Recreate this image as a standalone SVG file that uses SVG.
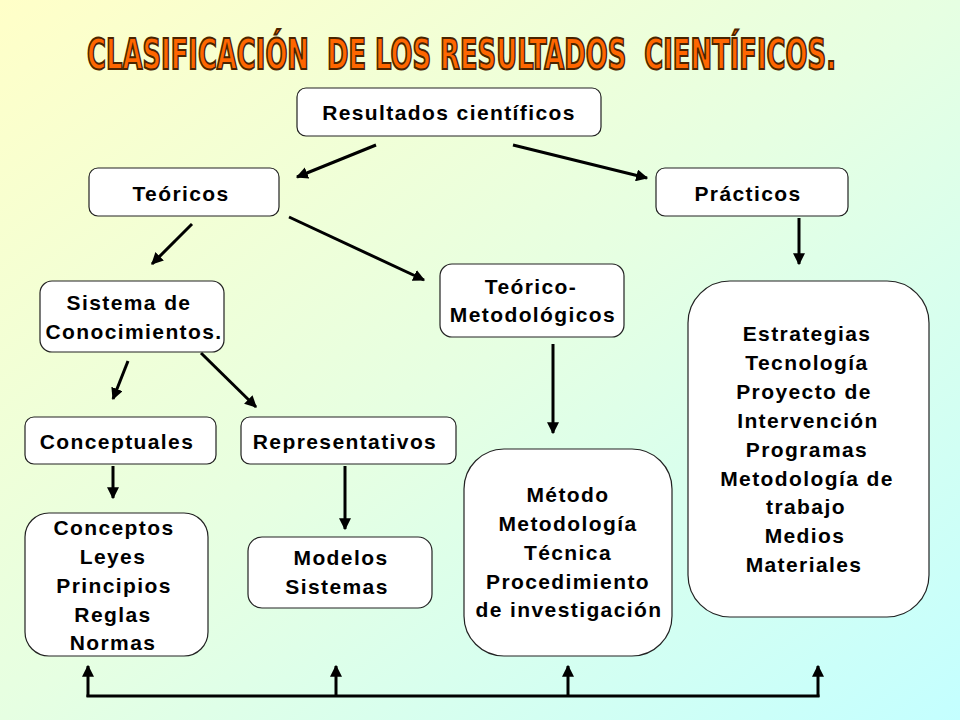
<svg xmlns="http://www.w3.org/2000/svg" width="960" height="720" viewBox="0 0 960 720">
  <defs>
    <linearGradient id="bg" x1="0" y1="0" x2="1" y2="1">
      <stop offset="0" stop-color="#FFFFC8"/>
      <stop offset="0.5" stop-color="#E6FFE2"/>
      <stop offset="1" stop-color="#C4FFFF"/>
    </linearGradient>
    <marker id="arr" markerUnits="userSpaceOnUse" markerWidth="12" markerHeight="12" refX="9" refY="5" orient="auto" viewBox="0 0 10 10">
      <path d="M0,0 L10,5 L0,10 z" fill="#000"/>
    </marker>
    <style>
      .box { fill: #ffffff; stroke: #222222; stroke-width: 1.2; }
      .t { font-family: "Liberation Sans", Arial, sans-serif; font-weight: bold; font-size: 21px; letter-spacing: 1.4px; fill: #000; text-anchor: middle; }
      .c { stroke: #000; stroke-width: 3; fill: none; }
      .ca { stroke: #000; stroke-width: 3; fill: none; marker-end: url(#arr); }
      .title { font-family: "DejaVu Sans Condensed", "Liberation Sans", sans-serif; font-weight: bold; font-size: 42px; fill: #FF6600; stroke: #4a2400; stroke-width: 2; }
    </style>
  </defs>
  <rect x="0" y="0" width="960" height="720" fill="url(#bg)"/>

  <g id="title" transform="translate(87,69) scale(0.684,1)">
    <text class="title" x="0" y="0" xml:space="preserve">CLASIFICACIÓN  DE LOS RESULTADOS  CIENTÍFICOS.</text>
  </g>

  <g id="connectors">
    <line class="ca" x1="376" y1="145" x2="297" y2="177"/>
    <line class="ca" x1="513" y1="145" x2="647" y2="178"/>
    <line class="ca" x1="192" y1="224" x2="152" y2="264"/>
    <line class="ca" x1="289" y1="217" x2="424" y2="280"/>
    <line class="ca" x1="799" y1="218" x2="799" y2="264"/>
    <line class="ca" x1="128" y1="361" x2="113" y2="399"/>
    <line class="ca" x1="201" y1="353" x2="256" y2="407"/>
    <line class="ca" x1="553" y1="344" x2="553" y2="433"/>
    <line class="ca" x1="113" y1="466" x2="113" y2="498"/>
    <line class="ca" x1="345" y1="466" x2="345" y2="529"/>
    <line class="c" x1="86.5" y1="696" x2="819.5" y2="696"/>
    <line class="ca" x1="88" y1="697" x2="88" y2="666"/>
    <line class="ca" x1="336" y1="697" x2="336" y2="666"/>
    <line class="ca" x1="568" y1="697" x2="568" y2="666"/>
    <line class="ca" x1="818" y1="697" x2="818" y2="666"/>
  </g>

  <g id="n-resultados">
    <rect class="box" x="297" y="88" width="304" height="48" rx="9"/>
    <text class="t" x="449" y="120">Resultados científicos</text>
  </g>
  <g id="n-teoricos">
    <rect class="box" x="89" y="168" width="190" height="48" rx="9"/>
    <text class="t" x="181" y="201">Teóricos</text>
  </g>
  <g id="n-practicos">
    <rect class="box" x="656" y="168" width="192" height="48" rx="9"/>
    <text class="t" x="748" y="201">Prácticos</text>
  </g>
  <g id="n-sistema">
    <rect class="box" x="40" y="281" width="184" height="71" rx="12"/>
    <text class="t" x="129" y="310">Sistema de</text>
    <text class="t" x="134" y="339">Conocimientos.</text>
  </g>
  <g id="n-teorico-metodologicos">
    <rect class="box" x="440" y="264" width="184" height="73" rx="12"/>
    <text class="t" x="531" y="294">Teórico-</text>
    <text class="t" x="533" y="322">Metodológicos</text>
  </g>
  <g id="n-practicos-lista">
    <rect class="box" x="688" y="281" width="241" height="336" rx="42"/>
    <text class="t" x="807" y="341">Estrategias</text>
    <text class="t" x="807" y="370">Tecnología</text>
    <text class="t" x="804" y="399">Proyecto de</text>
    <text class="t" x="808" y="428">Intervención</text>
    <text class="t" x="807" y="457">Programas</text>
    <text class="t" x="807" y="486">Metodología de</text>
    <text class="t" x="806" y="514">trabajo</text>
    <text class="t" x="805" y="543">Medios</text>
    <text class="t" x="804" y="572">Materiales</text>
  </g>
  <g id="n-conceptuales">
    <rect class="box" x="25" y="417" width="191" height="47" rx="9"/>
    <text class="t" x="117" y="449">Conceptuales</text>
  </g>
  <g id="n-representativos">
    <rect class="box" x="241" y="417" width="215" height="47" rx="9"/>
    <text class="t" x="345" y="449">Representativos</text>
  </g>
  <g id="n-conceptos">
    <rect class="box" x="25" y="513" width="183" height="143" rx="24"/>
    <text class="t" x="114" y="535">Conceptos</text>
    <text class="t" x="113" y="564">Leyes</text>
    <text class="t" x="114" y="593">Principios</text>
    <text class="t" x="113" y="622">Reglas</text>
    <text class="t" x="113" y="650">Normas</text>
  </g>
  <g id="n-modelos">
    <rect class="box" x="248" y="537" width="184" height="71" rx="14"/>
    <text class="t" x="341" y="565">Modelos</text>
    <text class="t" x="337" y="594">Sistemas</text>
  </g>
  <g id="n-metodo">
    <rect class="box" x="464" y="449" width="208" height="207" rx="40"/>
    <text class="t" x="568" y="502">Método</text>
    <text class="t" x="568" y="531">Metodología</text>
    <text class="t" x="568" y="560">Técnica</text>
    <text class="t" x="568" y="589">Procedimiento</text>
    <text class="t" x="569" y="617">de investigación</text>
  </g>
</svg>
